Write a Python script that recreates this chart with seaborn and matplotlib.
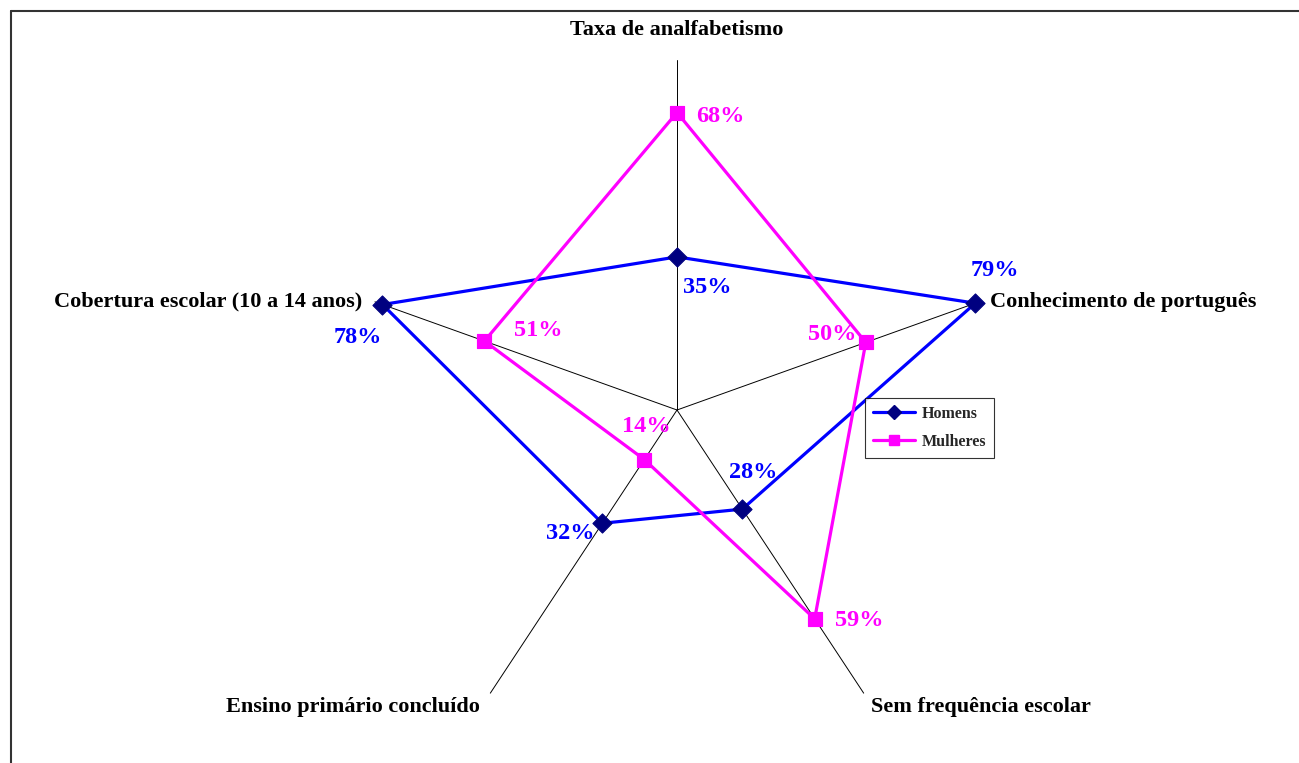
import numpy as np
import pandas as pd
import matplotlib
matplotlib.use("Agg")
import matplotlib.pyplot as plt
from matplotlib.lines import Line2D
import seaborn as sns

# ─── Données ────────────────────────────────────────────────────────────────
categories = ["Taxa de analfabetismo", "Conhecimento de português",
              "Sem frequência escolar", "Ensino primário concluído",
              "Cobertura escolar (10 a 14 anos)"]
homens   = [35, 79, 28, 32, 78]
mulheres = [68, 50, 59, 14, 51]
series_names = ["Homens", "Mulheres"]
r_max = 80

# ─── Style ──────────────────────────────────────────────────────────────────
sns.set_style("white")
plt.rcParams['font.family'] = ['Liberation Serif', 'DejaVu Serif']
plt.rcParams['font.weight'] = 'bold'

BLUE, NAVY, MAGENTA = '#0000FF', '#000080', '#FF00FF'

n = len(categories)
theta = np.arange(n) * 2 * np.pi / n   # sens horaire depuis le haut

def to_xy(r):
    r = np.asarray(r, dtype=float)
    return r * np.sin(theta), r * np.cos(theta)

rows = []
for name, vals in zip(series_names, [homens, mulheres]):
    xs, ys = to_xy(vals)
    for i in list(range(n)) + [0]:
        rows.append({'serie': name, 'x': xs[i], 'y': ys[i]})
df = pd.DataFrame(rows)

W, H, DPI = 1299, 763, 100
fig = plt.figure(figsize=(W / DPI, H / DPI), dpi=DPI)
ax = fig.add_axes([0, 0, 1, 1])

# échelle (pixels par %) : l'ovale d'Excel est un peu écrasé horizontalement
cx, cy = 677, 410
sx, sy = 3.97, 4.375
ax.set_xlim(-cx / sx, (W - cx) / sx)
ax.set_ylim(-(H - cy) / sy, cy / sy)
ax.axis('off')

# rayons
ex, ey = to_xy([r_max] * n)
for i in range(n):
    ax.plot([0, ex[i]], [0, ey[i]], color='black', lw=0.7, zorder=1)

# séries
sns.lineplot(data=df, x='x', y='y', hue='serie', sort=False, estimator=None,
             palette={'Homens': BLUE, 'Mulheres': MAGENTA}, lw=2.3,
             legend=False, ax=ax, zorder=2)
hx, hy = to_xy(homens)
mx, my = to_xy(mulheres)
sns.scatterplot(x=hx, y=hy, marker='D', s=95, color=NAVY, edgecolor=NAVY,
                ax=ax, zorder=3, legend=False)
sns.scatterplot(x=mx, y=my, marker='s', s=110, color=MAGENTA, edgecolor=MAGENTA,
                ax=ax, zorder=3, legend=False)

# étiquettes des catégories
cat_off = [(0, 30, 'center'), (11, 0, 'left'), (7, -14, 'left'),
           (-10, -14, 'right'), (-13, 0, 'right')]
for i, lab in enumerate(categories):
    dx, dy, ha = cat_off[i]
    ax.annotate(lab, (ex[i], ey[i]), xytext=(dx, dy), textcoords='offset pixels',
                ha=ha, va='center', fontsize=16, fontweight='bold', color='black')

# étiquettes des valeurs
h_off = [(30, -31, 'center'), (20, 33, 'center'), (11, 37, 'center'),
         (-8, -10, 'right'), (-25, -33, 'center')]
m_off = [(19, -4, 'left'), (-9, 8, 'right'), (20, -2, 'left'),
         (2, 33, 'center'), (30, 11, 'left')]
for vals, xs, ys, offs, col in [(homens, hx, hy, h_off, BLUE),
                                (mulheres, mx, my, m_off, MAGENTA)]:
    for v, x, y, (dx, dy, ha) in zip(vals, xs, ys, offs):
        ax.annotate(f"{v}%", (x, y), xytext=(dx, dy), textcoords='offset pixels',
                    ha=ha, va='center', fontsize=17.5, fontweight='bold', color=col)

# légende
handles = [Line2D([], [], color=BLUE, lw=2.3, marker='D', ms=7,
                  markerfacecolor=NAVY, markeredgecolor=NAVY),
           Line2D([], [], color=MAGENTA, lw=2.3, marker='s', ms=7,
                  markerfacecolor=MAGENTA, markeredgecolor=MAGENTA)]
leg = fig.legend(handles, series_names, loc='lower left',
                 bbox_to_anchor=(865 / W, (H - 458) / H),
                 prop={'family': 'Liberation Serif', 'weight': 'bold', 'size': 11.5},
                 frameon=True, fancybox=False, handlelength=2.6,
                 borderpad=0.5, labelspacing=0.75, handletextpad=0.45,
                 borderaxespad=0)
leg.get_frame().set_edgecolor('black')
leg.get_frame().set_linewidth(0.8)

# cadre extérieur (haut et gauche)
fig.add_artist(Line2D([11 / W, 1], [1 - 11 / H, 1 - 11 / H],
                      transform=fig.transFigure, color='#333333', lw=1.5))
fig.add_artist(Line2D([11 / W, 11 / W], [0, 1 - 11 / H],
                      transform=fig.transFigure, color='#333333', lw=1.5))

fig.savefig("out.png", dpi=DPI)
plt.close(fig)
